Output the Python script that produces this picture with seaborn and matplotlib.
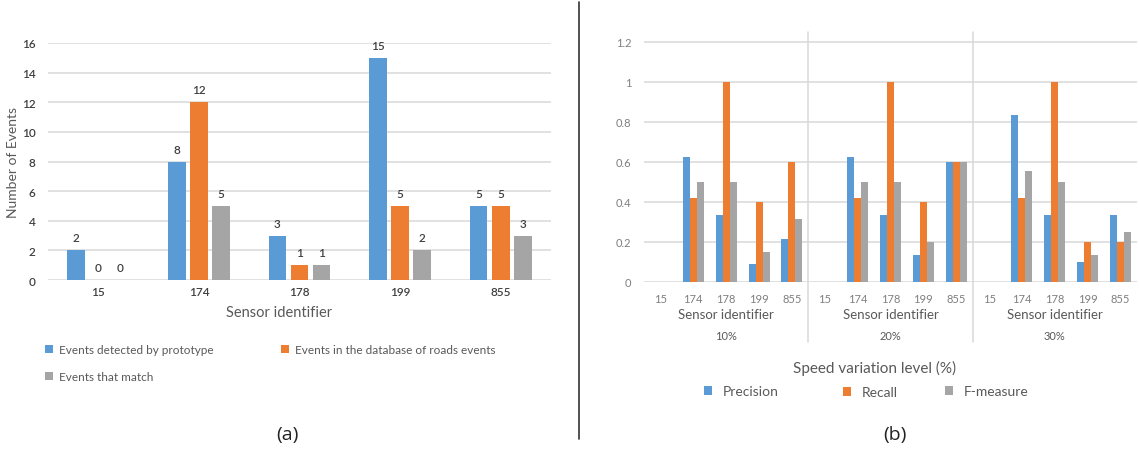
import matplotlib
matplotlib.use("Agg")
import matplotlib.pyplot as plt
import matplotlib.transforms as mtransforms
from matplotlib.lines import Line2D
import seaborn as sns
import pandas as pd

# ---- data -------------------------------------------------------------
sensors = ["15", "174", "178", "199", "855"]

# (a) event counts per sensor
detected_by_prototype = [2, 8, 3, 15, 5]
in_roads_database = [0, 12, 1, 5, 5]
events_matching = [0, 5, 1, 2, 3]
event_series = [
    "Events detected by prototype",
    "Events in the database of roads events",
    "Events that match",
]

# (b) detection quality per speed variation level
levels = ["10%", "20%", "30%"]
precision_10 = [0, 0.625, 0.333, 0.091, 0.214]
recall_10 = [0, 0.417, 1.0, 0.4, 0.6]
fmeasure_10 = [0, 0.5, 0.5, 0.148, 0.316]
precision_20 = [0, 0.625, 0.333, 0.133, 0.6]
recall_20 = [0, 0.417, 1.0, 0.4, 0.6]
fmeasure_20 = [0, 0.5, 0.5, 0.2, 0.6]
precision_30 = [0, 0.833, 0.333, 0.1, 0.333]
recall_30 = [0, 0.417, 1.0, 0.2, 0.2]
fmeasure_30 = [0, 0.556, 0.5, 0.133, 0.25]
metrics = ["Precision", "Recall", "F-measure"]

colors = ["#5B9BD5", "#ED7D31", "#A5A5A5"]

# ---- tables -------------------------------------------------------------
rows_a = []
for name, vals in zip(event_series, [detected_by_prototype, in_roads_database, events_matching]):
    for s, v in zip(sensors, vals):
        rows_a.append({"sensor": s, "series": name, "count": v})
df_a = pd.DataFrame(rows_a)

by_level = {
    "10%": [precision_10, recall_10, fmeasure_10],
    "20%": [precision_20, recall_20, fmeasure_20],
    "30%": [precision_30, recall_30, fmeasure_30],
}
slots = [f"{lv}|{s}" for lv in levels for s in sensors]
rows_b = []
for lv in levels:
    for m, vals in zip(metrics, by_level[lv]):
        for s, v in zip(sensors, vals):
            rows_b.append({"slot": f"{lv}|{s}", "metric": m, "value": v})
df_b = pd.DataFrame(rows_b)

# ---- figure -------------------------------------------------------------
sns.set_style("white")
plt.rcParams["font.family"] = ["Lato", "DejaVu Sans"]

W, H = 1139, 452
fig = plt.figure(figsize=(W / 100, H / 100), dpi=100)
fx = lambda px: px / W
fy = lambda py: 1 - py / H

grid_color = "#D9D9D9"
dark = "#404040"
mid = "#595959"

# ---- (a) ---------------------------------------------------------------
ax_a = fig.add_axes([fx(48), fy(281), fx(551) - fx(48), fy(44) - fy(281)])
sns.barplot(data=df_a, x="sensor", y="count", hue="series", order=sensors,
            hue_order=event_series, palette=colors, saturation=1,
            width=0.66, gap=0.2, linewidth=0, errorbar=None, ax=ax_a)
handles_a, labels_a = ax_a.get_legend_handles_labels()
ax_a.legend_.remove()
ax_a.set_xlim(-0.5, 4.5)
ax_a.set_ylim(0, 16)
ax_a.set_yticks(range(0, 17, 2))
ax_a.yaxis.grid(True, color=grid_color, lw=1.1)
ax_a.set_axisbelow(True)
for sp in ax_a.spines.values():
    sp.set_visible(False)
ax_a.tick_params(axis="both", length=0, labelsize=8.5, labelcolor=dark)
ax_a.tick_params(axis="y", pad=9)
ax_a.tick_params(axis="x", pad=4)
for lab in ax_a.get_xticklabels() + ax_a.get_yticklabels():
    lab.set_fontweight("semibold")
ax_a.set_xlabel("")
ax_a.set_ylabel("")
for cont in ax_a.containers:
    ax_a.bar_label(cont, fmt="%d", padding=5, fontsize=8.5,
                   color=dark, fontweight="semibold")

fig.text(fx(13), fy(162), "Number of Events", rotation=90, ha="center",
         va="center", fontsize=10, color=mid)
fig.text(fx(279), fy(313), "Sensor identifier", ha="center", va="center",
         fontsize=10.5, color=mid)

legend_pos_a = [(45, 351), (281, 351), (45, 378)]
for h, lab, (px, py) in zip(handles_a, labels_a, legend_pos_a):
    fig.legend([h], [lab], loc="center left", bbox_to_anchor=(fx(px), fy(py)),
               frameon=False, fontsize=8.5, labelcolor=mid, borderpad=0,
               borderaxespad=0, handlelength=0.65, handleheight=0.65,
               handletextpad=0.55)

fig.text(fx(287), fy(435), "(a)", ha="center", va="center", fontsize=14,
         color="#222222", family=["Open Sans", "DejaVu Sans"])

# ---- divider between panels ---------------------------------------------
fig.add_artist(Line2D([fx(579), fx(579)], [fy(3), fy(440)], color="#333333", lw=1.2))

# ---- (b) ---------------------------------------------------------------
ax_b = fig.add_axes([fx(644), fy(282.7), fx(1137) - fx(644), fy(32.7) - fy(282.7)])
sns.barplot(data=df_b, x="slot", y="value", hue="metric", order=slots,
            hue_order=metrics, palette=colors, saturation=1,
            width=0.64, gap=0, linewidth=0, errorbar=None, ax=ax_b)
handles_b, labels_b = ax_b.get_legend_handles_labels()
ax_b.legend_.remove()
ax_b.set_xlim(-0.5, len(slots) - 0.5)
ax_b.set_ylim(0, 1.25)
ticks_b = [0, 0.2, 0.4, 0.6, 0.8, 1.0, 1.2]
ax_b.set_yticks(ticks_b)
ax_b.set_yticklabels([f"{t:g}" for t in ticks_b])
ax_b.set_xticks(range(len(slots)))
ax_b.set_xticklabels(sensors * len(levels))
ax_b.yaxis.grid(True, color=grid_color, lw=1.1)
ax_b.set_axisbelow(True)
for sp in ax_b.spines.values():
    sp.set_visible(False)
ax_b.tick_params(axis="both", length=0, labelsize=8, labelcolor="#7F7F7F")
ax_b.tick_params(axis="y", pad=9)
ax_b.tick_params(axis="x", pad=8)
ax_b.set_xlabel("")
ax_b.set_ylabel("")

blend = mtransforms.blended_transform_factory(ax_b.transData, fig.transFigure)
n = len(sensors)
for i in range(1, len(levels)):
    xb = i * n - 0.5
    ax_b.plot([xb, xb], [fy(32.7), fy(343)], transform=blend, color=grid_color,
              lw=1.1, clip_on=False)
for i, lv in enumerate(levels):
    xc = i * n + (n - 1) / 2
    ax_b.text(xc, fy(315), "Sensor identifier", transform=blend, ha="center",
              va="center", fontsize=9.5, color=mid)
    ax_b.text(xc, fy(337), lv, transform=blend, ha="center", va="center",
              fontsize=8, color=mid)

fig.text(fx(875), fy(368), "Speed variation level (%)", ha="center",
         va="center", fontsize=11, color=mid)

legend_pos_b = [(704, 392), (843, 393), (945, 392)]
for h, lab, (px, py) in zip(handles_b, labels_b, legend_pos_b):
    fig.legend([h], [lab], loc="center left", bbox_to_anchor=(fx(px), fy(py)),
               frameon=False, fontsize=10, labelcolor=mid, borderpad=0,
               borderaxespad=0, handlelength=0.6, handleheight=0.6,
               handletextpad=0.75)

fig.text(fx(895), fy(435), "(b)", ha="center", va="center", fontsize=14,
         color="#222222", family=["Open Sans", "DejaVu Sans"])

fig.savefig("out.png", dpi=100, facecolor="white")
